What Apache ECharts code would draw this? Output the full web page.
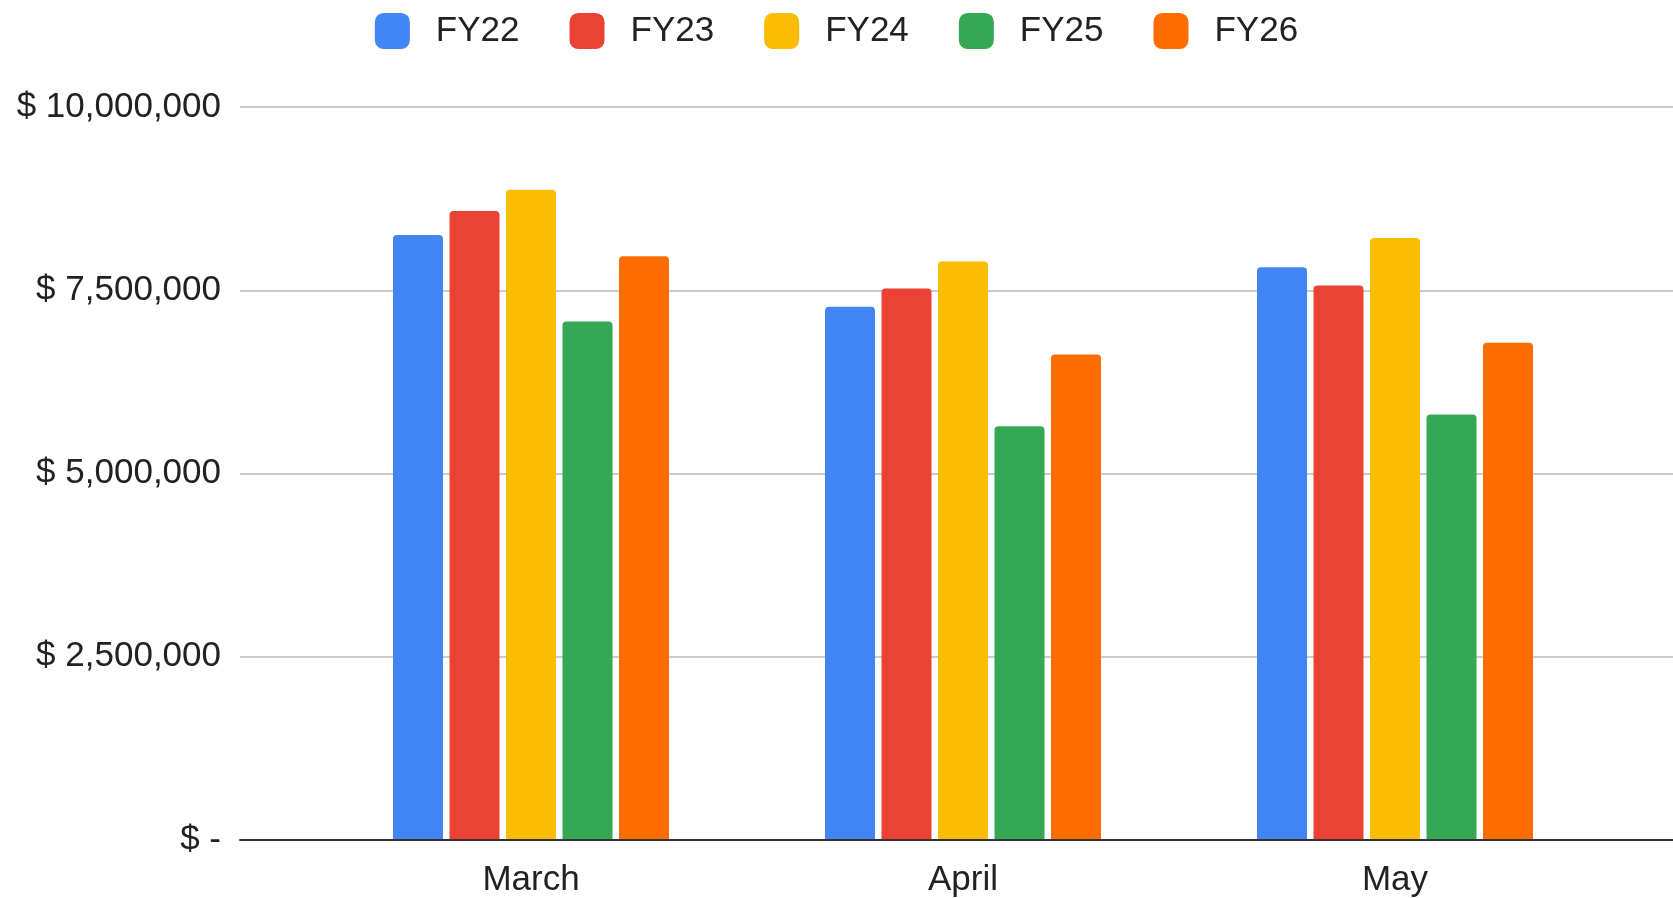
<!DOCTYPE html>
<html>
<head>
<meta charset="utf-8">
<script src="https://cdn.jsdelivr.net/npm/echarts@6/dist/echarts.min.js"></script>
<style>
  html, body { margin: 0; padding: 0; background: #fff; }
  #chart { width: 1673px; height: 898px; }
</style>
</head>
<body>
<div id="chart"></div>
<script>
var months = ['March', 'April', 'May'];
var fy22 = [8250000, 7270000, 7810000];
var fy23 = [8580000, 7520000, 7560000];
var fy24 = [8870000, 7890000, 8210000];
var fy25 = [7070000, 5640000, 5800000];
var fy26 = [7960000, 6620000, 6780000];
var yTicks = [0, 2500000, 5000000, 7500000, 10000000];

var colors = ['#4285f4', '#ea4335', '#fbbc04', '#34a853', '#ff6d01'];
var font = 'Liberation Sans, Arial, sans-serif';

function money(v) {
    if (v === 0) {
        return '$ -';
    }
    return '$ ' + v.toLocaleString('en-US');
}

function bar(name, data) {
    return {
        name: name,
        type: 'bar',
        xAxisIndex: 1,
        yAxisIndex: 1,
        data: data,
        barWidth: 50,
        barGap: '13%',
        itemStyle: { borderRadius: [4, 4, 0, 0] }
    };
}

var chart = echarts.init(document.getElementById('chart'));
var option = {
    color: colors,
    animation: false,
    legend: {
        top: 8,
        left: 'center',
        icon: 'roundRect',
        itemWidth: 35,
        itemHeight: 36,
        itemGap: 50,
        textStyle: {
            fontFamily: font,
            fontSize: 35,
            color: '#222',
            padding: [2, 0, 0, 21]
        },
        data: ['FY22', 'FY23', 'FY24', 'FY25', 'FY26']
    },
    grid: [
        { left: 240, right: 0, top: 107, bottom: 58 },
        { left: 315, right: 62, top: 107, bottom: 58 }
    ],
    xAxis: [{
        gridIndex: 0,
        type: 'value',
        axisLine: { show: true, lineStyle: { color: '#333', width: 2 } },
        axisTick: { show: false },
        axisLabel: { show: false },
        splitLine: { show: false }
    }, {
        gridIndex: 1,
        type: 'category',
        data: months,
        axisLine: { show: false },
        axisTick: { show: false },
        axisLabel: {
            fontFamily: font,
            fontSize: 35,
            color: '#222',
            margin: 24
        }
    }],
    yAxis: [{
        gridIndex: 0,
        type: 'value',
        min: yTicks[0],
        max: yTicks[yTicks.length - 1],
        interval: yTicks[1] - yTicks[0],
        axisLine: { show: false },
        axisTick: { show: false },
        axisLabel: {
            fontFamily: font,
            fontSize: 35,
            color: '#222',
            margin: 19,
            formatter: money
        },
        splitLine: { lineStyle: { color: '#cccccc', width: 2 } }
    }, {
        gridIndex: 1,
        type: 'value',
        min: yTicks[0],
        max: yTicks[yTicks.length - 1],
        show: false,
        splitLine: { show: false }
    }],
    series: [
        bar('FY22', fy22),
        bar('FY23', fy23),
        bar('FY24', fy24),
        bar('FY25', fy25),
        bar('FY26', fy26)
    ]
};
chart.setOption(option);
</script>
</body>
</html>
